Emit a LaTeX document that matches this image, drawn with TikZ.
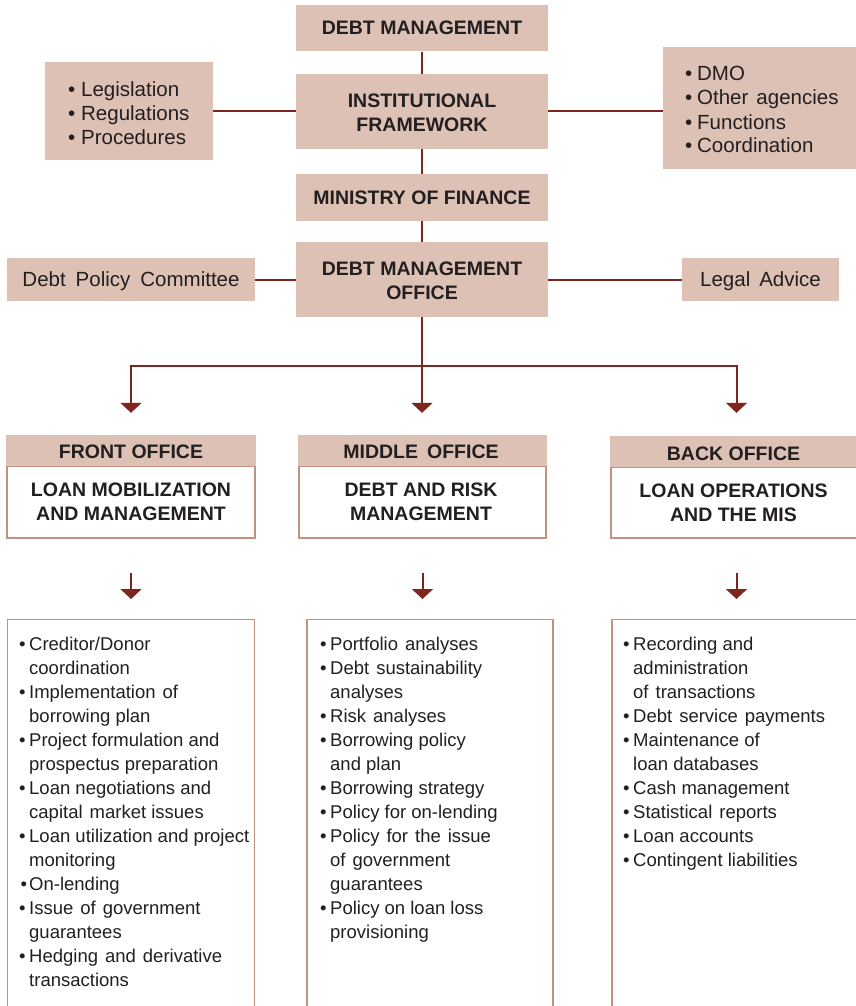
\documentclass[tikz,border=0pt]{standalone}
\usepackage{fontspec}
\setmainfont{Liberation Sans}
\usetikzlibrary{arrows.meta}
\definecolor{boxfill}{RGB}{220,193,180}
\definecolor{conn}{RGB}{125,38,28}
\definecolor{edgec}{RGB}{195,145,130}
\definecolor{txt}{RGB}{35,31,32}
\newcommand{\BulItem}[6]{\node[#1,anchor=base west] (#3) at (#4,#5) {\llap{\textbullet\hspace{#2}}#6};}
\newcommand{\ContItem}[5]{\node[#1,anchor=base west] (#2) at (#3,#4) {#5};}
\begin{document}
\begin{tikzpicture}[x=1pt,y=-1pt,
  fbox/.style={fill=boxfill,draw=none,inner sep=0pt,text=txt},
  ttl/.style={font=\fontsize{19.5}{24}\selectfont\bfseries,align=center,text=txt},
  lst/.style={inner sep=0pt,text=txt,font=\fontsize{18.5}{24}\selectfont},
  big/.style={inner sep=0pt,text=txt,font=\fontsize{20.5}{24}\selectfont},
  conline/.style={draw=conn,line width=2pt},
  arr/.style={conline,-{Triangle[width=21pt,length=10pt]}},
  obody/.style={draw=edgec,line width=1.3pt,fill=white,inner sep=0pt},
]
\clip (0,0) rectangle (856,1006);
\fill[white] (0,0) rectangle (856,1006);

% top column
\node[fbox,ttl,minimum width=252pt,minimum height=46.5pt] (dm) at (422,28.25) {DEBT MANAGEMENT};
\node[fbox,ttl,minimum width=252pt,minimum height=75pt] (inst) at (422,111.5) {};
\node[ttl,inner sep=0pt] (instt) at (422,113) {INSTITUTIONAL\\FRAMEWORK};
\node[fbox,ttl,minimum width=252pt,minimum height=47pt] (mof) at (422,197.5) {MINISTRY OF FINANCE};
\node[fbox,ttl,minimum width=252pt,minimum height=75pt] (dmo) at (422,279.5) {};
\node[ttl,inner sep=0pt] (dmot) at (422,281) {DEBT MANAGEMENT\\OFFICE};

% side boxes
\node[fbox,minimum width=168pt,minimum height=98pt] (leg) at (129,111) {};
\BulItem{big}{6pt}{leg1}{81}{96.5}{Legislation}
\BulItem{big}{6pt}{leg2}{81}{120.5}{Regulations}
\BulItem{big}{6pt}{leg3}{81}{144.5}{Procedures}

\node[fbox,minimum width=193pt,minimum height=122pt] (agl) at (759.5,108) {};
\BulItem{big}{5pt}{agl1}{697}{81}{DMO}
\BulItem{big}{5pt}{agl2}{697}{105}{Other\hspace{8pt}agencies}
\BulItem{big}{5pt}{agl3}{697}{129}{Functions}
\BulItem{big}{5pt}{agl4}{697}{153}{Coordination}

\node[fbox,big,text depth=0pt,minimum width=248pt,minimum height=43pt] (dpc) at (131,279.5) {Debt\hspace{10pt}Policy\hspace{10pt}Committee};
\node[fbox,big,text depth=0pt,minimum width=157pt,minimum height=43pt] (legal) at (760.5,279.5) {Legal\hspace{9pt}Advice};

% connectors top
\draw[conline] (dm.south) -- (inst.north);
\draw[conline] (inst.south) -- (mof.north);
\draw[conline] (mof.south) -- (dmo.north);
\draw[conline] (leg.east) -- (leg.east -| inst.west);
\draw[conline] (inst.east) -- (inst.east -| agl.west);
\draw[conline] (dpc.east) -- (dpc.east -| dmo.west);
\draw[conline] (dmo.east) -- (dmo.east -| legal.west);

% office boxes
\node[obody,minimum width=248pt,minimum height=72pt] (fbody) at (131,502) {};
\node[fbox,minimum width=249.3pt,minimum height=31pt] (fhead) at (131,450.5) {};
\node[ttl,inner sep=0pt] (fheadt) at (131,452) {FRONT OFFICE};
\node[ttl,inner sep=0pt] (fbodyt) at (131,502) {LOAN MOBILIZATION\\AND MANAGEMENT};

\node[obody,minimum width=247pt,minimum height=72pt] (mbody) at (422.5,502) {};
\node[fbox,minimum width=248.3pt,minimum height=31pt] (mhead) at (422.5,450.5) {};
\node[ttl,inner sep=0pt] (mheadt) at (421,452) {MIDDLE\hspace{9pt}OFFICE};
\node[ttl,inner sep=0pt] (mbodyt) at (421,502) {DEBT AND RISK\\MANAGEMENT};

\node[obody,minimum width=251pt,minimum height=71pt] (bbody) at (736.5,502.5) {};
\node[fbox,minimum width=252.3pt,minimum height=31pt] (bhead) at (736.5,451.5) {};
\node[ttl,inner sep=0pt] (bheadt) at (733.5,453.5) {BACK OFFICE};
\node[ttl,inner sep=0pt] (bbodyt) at (733.5,503) {LOAN OPERATIONS\\AND THE MIS};

% distribution arrows
\coordinate (jL) at (131,366);
\draw[arr,shorten >=22pt] (dmo.south) -- (dmo.south |- mhead.north);
\draw[arr,shorten >=22pt] (dmo.south |- jL) -| (fhead.north);
\draw[arr,shorten >=23pt] (dmo.south |- jL) -| (bhead.north);

% list boxes
\node[obody,anchor=north,minimum width=247pt,minimum height=420pt] (flist) at (131,619) {};
\node[obody,anchor=north,minimum width=246pt,minimum height=420pt] (mlist) at (430,619) {};
\node[obody,anchor=north,minimum width=250pt,minimum height=420pt] (blist) at (737,619) {};

\draw[arr,shorten <=34pt,shorten >=20pt] (fbody.south) -- (fbody.south |- flist.north);
\draw[arr,shorten <=34pt,shorten >=20pt] (mbody.south) -- (mbody.south |- mlist.north);
\draw[arr,shorten <=34pt,shorten >=20pt] (bbody.south) -- (bbody.south |- blist.north);

% front list
\BulItem{lst}{3.5pt}{f1}{29}{650.5}{Creditor/Donor}
\ContItem{lst}{f2}{29}{674.5}{coordination}
\BulItem{lst}{3.5pt}{f3}{29}{698.5}{Implementation\hspace{7pt}of}
\ContItem{lst}{f4}{29}{722.5}{borrowing plan}
\BulItem{lst}{3.5pt}{f5}{29}{746.5}{Project formulation and}
\ContItem{lst}{f6}{29}{770.5}{prospectus preparation}
\BulItem{lst}{3.5pt}{f7}{29}{794.5}{Loan negotiations and}
\ContItem{lst}{f8}{29}{818.5}{capital\hspace{7pt}market issues}
\BulItem{lst}{3.5pt}{f9}{29}{842.5}{Loan utilization and project}
\ContItem{lst}{f10}{29}{866.5}{monitoring}
\BulItem{lst}{2pt}{f11}{29}{890.5}{On-lending}
\BulItem{lst}{3.5pt}{f12}{29}{914.5}{Issue\hspace{7pt}of\hspace{7pt}government}
\ContItem{lst}{f13}{29}{938.5}{guarantees}
\BulItem{lst}{3.5pt}{f14}{29}{962.5}{Hedging\hspace{7pt}and\hspace{7pt}derivative}
\ContItem{lst}{f15}{29}{986.5}{transactions}

% middle list
\BulItem{lst}{3.5pt}{m1}{330}{650.5}{Portfolio\hspace{7pt}analyses}
\BulItem{lst}{3.5pt}{m2}{330}{674.5}{Debt\hspace{7pt}sustainability}
\ContItem{lst}{m3}{330}{698.5}{analyses}
\BulItem{lst}{3.5pt}{m4}{330}{722.5}{Risk\hspace{7pt}analyses}
\BulItem{lst}{3.5pt}{m5}{330}{746.5}{Borrowing policy}
\ContItem{lst}{m6}{330}{770.5}{and plan}
\BulItem{lst}{3.5pt}{m7}{330}{794.5}{Borrowing strategy}
\BulItem{lst}{3.5pt}{m8}{330}{818.5}{Policy for on-lending}
\BulItem{lst}{3.5pt}{m9}{330}{842.5}{Policy\hspace{7pt}for\hspace{7pt}the\hspace{7pt}issue}
\ContItem{lst}{m10}{330}{866.5}{of\hspace{7pt}government}
\ContItem{lst}{m11}{330}{890.5}{guarantees}
\BulItem{lst}{3.5pt}{m12}{330}{914.5}{Policy on loan loss}
\ContItem{lst}{m13}{330}{938.5}{provisioning}

% back list
\BulItem{lst}{3.5pt}{b1}{633}{650.5}{Recording and}
\ContItem{lst}{b2}{633}{674.5}{administration}
\ContItem{lst}{b3}{633}{698.5}{of\hspace{7pt}transactions}
\BulItem{lst}{3.5pt}{b4}{633}{722.5}{Debt\hspace{7pt}service\hspace{7pt}payments}
\BulItem{lst}{3.5pt}{b5}{633}{746.5}{Maintenance of}
\ContItem{lst}{b6}{633}{770.5}{loan databases}
\BulItem{lst}{3.5pt}{b7}{633}{794.5}{Cash management}
\BulItem{lst}{3.5pt}{b8}{633}{818.5}{Statistical\hspace{7pt}reports}
\BulItem{lst}{3.5pt}{b9}{633}{842.5}{Loan accounts}
\BulItem{lst}{3.5pt}{b10}{633}{866.5}{Contingent liabilities}
\end{tikzpicture}
\end{document}
